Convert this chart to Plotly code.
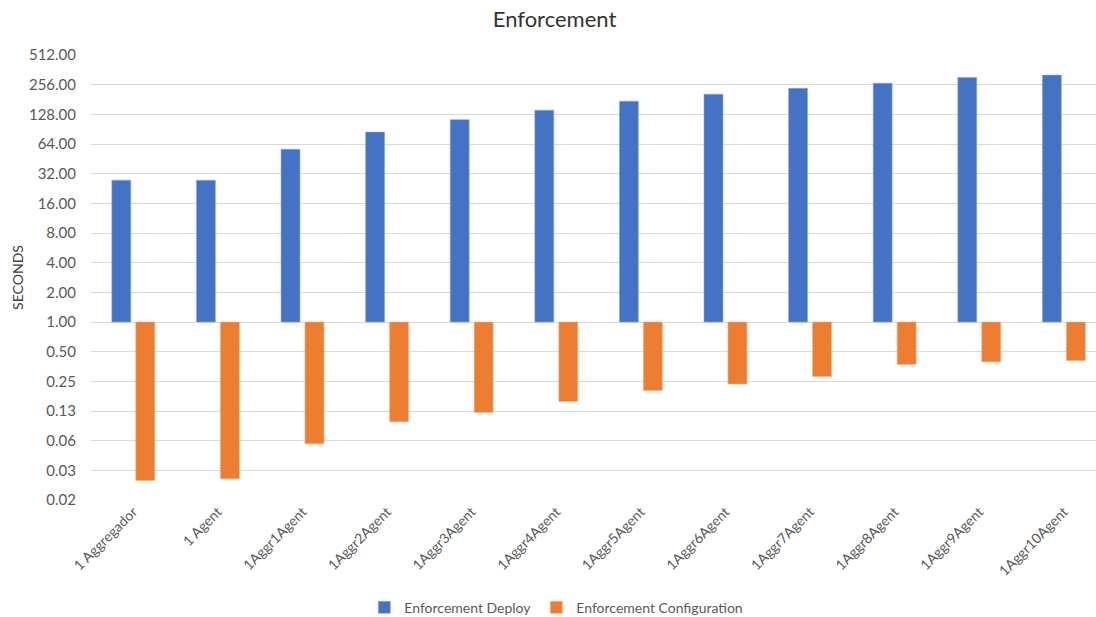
import plotly.graph_objects as go

# Categories and measured times (seconds)
categories = ["1 Aggregador", "1 Agent", "1Aggr1Agent", "1Aggr2Agent", "1Aggr3Agent",
              "1Aggr4Agent", "1Aggr5Agent", "1Aggr6Agent", "1Aggr7Agent", "1Aggr8Agent",
              "1Aggr9Agent", "1Aggr10Agent"]
deploy = [27.5, 27.4, 56.5, 84.5, 113, 141, 174, 205, 235, 265, 302, 320]
configuration = [0.0246, 0.0256, 0.058, 0.097, 0.121, 0.156, 0.202, 0.235, 0.28, 0.371, 0.394, 0.406]

# Base-2 log axis ticks
tick_values = [2 ** k for k in range(-6, 10)]
tick_labels = ["0.02", "0.03", "0.06", "0.13", "0.25", "0.50", "1.00", "2.00", "4.00",
               "8.00", "16.00", "32.00", "64.00", "128.00", "256.00", "512.00"]

BASELINE = 1.0
FONT = "Lato, Carlito, Calibri, sans-serif"
TEXT = "#595959"

fig = go.Figure()
fig.add_trace(go.Bar(
    name="Enforcement Deploy",
    x=categories,
    y=[v - BASELINE for v in deploy],
    base=BASELINE,
    marker=dict(color="#4472C4", line=dict(color="#8FAADC", width=0.6)),
    customdata=deploy,
    hovertemplate="%{x}: %{customdata}<extra></extra>",
))
fig.add_trace(go.Bar(
    name="Enforcement Configuration",
    x=categories,
    y=[v - BASELINE for v in configuration],
    base=BASELINE,
    marker=dict(color="#ED7D31", line=dict(color="#F4B183", width=0.6)),
    customdata=configuration,
    hovertemplate="%{x}: %{customdata}<extra></extra>",
))

fig.update_layout(
    width=1096, height=617,
    margin=dict(l=91, r=0, t=55, b=117, autoexpand=False),
    paper_bgcolor="white", plot_bgcolor="white",
    font=dict(family=FONT, color=TEXT, size=14),
    title=dict(text="Enforcement", x=0.506, xanchor="center", y=0.968, yanchor="middle",
               font=dict(family=FONT, size=22, color="#333333")),
    barmode="group", bargap=0.433, bargroupgap=0.21,
    showlegend=True,
    legend=dict(orientation="h", x=0.463, xanchor="center",
                yref="container", y=0.015, yanchor="middle",
                font=dict(family=FONT, size=14, color=TEXT), traceorder="normal",
                itemwidth=30),
)
fig.update_xaxes(
    range=[-0.5, 11.38],
    tickangle=-45,
    tickfont=dict(family=FONT, size=14, color=TEXT),
    showgrid=False, showline=False, ticks="", automargin=False,
)
fig.update_yaxes(
    type="log",
    range=[-6 * 0.30103, 9 * 0.30103],
    tickvals=tick_values, ticktext=tick_labels,
    tickfont=dict(family=FONT, size=15, color=TEXT),
    showgrid=True, gridcolor="#D9D9D9", gridwidth=1,
    zeroline=False, showline=False, ticks="", ticklabelstandoff=14, automargin=False,
    title=dict(text="SECONDS", font=dict(family=FONT, size=14, color="#404040"), standoff=2),
)

fig.write_html("out.html")
